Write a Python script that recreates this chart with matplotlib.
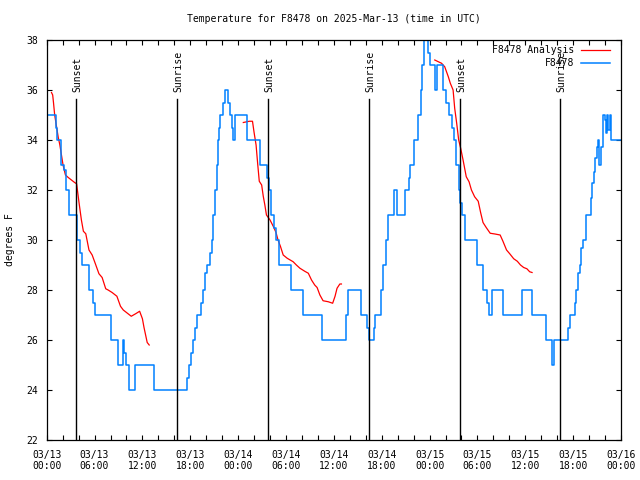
import numpy as np
import matplotlib
matplotlib.use("Agg")
import matplotlib.pyplot as plt
from matplotlib.ticker import MultipleLocator
import matplotlib.transforms as mtransforms

# hours since 2025-03-13 00:00 UTC
obs_hours = [0.0, 1.15, 1.35, 1.75, 2.15, 2.4, 2.8, 3.8, 4.2, 4.45, 5.3, 5.75, 6.0,
             8.1, 9.0, 9.55, 9.7, 9.9, 10.3, 11.1, 13.5, 17.55, 17.6, 17.85, 18.15,
             18.4, 18.65, 18.9, 19.35, 19.6, 19.9, 20.15, 20.45, 20.7, 20.9, 21.1,
             21.3, 21.5, 21.65, 21.75, 22.1, 22.3, 22.7, 23.0, 23.2, 23.4, 23.55,
             25.05, 26.8, 27.65, 27.85, 28.1, 28.55, 28.75, 29.15, 30.6, 32.1, 34.5,
             37.5, 37.8, 39.35, 40.2, 40.45, 41.0, 41.15, 41.95, 42.2, 42.5, 42.85,
             43.55, 43.95, 44.95, 45.4, 45.6, 46.05, 46.6, 46.9, 47.1, 47.35, 47.8,
             48.0, 48.65, 48.95, 49.7, 50.1, 50.4, 50.85, 51.05, 51.35, 51.65,
             51.85, 52.05, 52.4, 53.97, 54.75, 55.2, 55.45, 55.8, 57.25, 59.6, 60.9,
             62.6, 63.35, 63.55, 65.4, 65.6, 66.2, 66.35, 66.6, 66.85, 67.0, 67.25,
             67.55, 68.25, 68.4, 68.6, 68.8, 69.0, 69.1, 69.25, 69.5, 69.75, 69.95,
             70.1, 70.25, 70.4, 70.6, 70.7, 70.8, 72.0]
obs_temp = [35, 34.5, 34, 33, 32.8, 32, 31, 30, 29.5, 29, 28, 27.5, 27,
            26, 25, 26, 25.5, 25, 24, 25, 24, 24, 24.5, 25, 25.5,
            26, 26.5, 27, 27.5, 28, 28.7, 29, 29.5, 30, 31, 32,
            33, 34, 34.5, 35, 35.5, 36, 35.5, 35, 34.5, 34, 35,
            34, 33, 32.5, 32, 31, 30.5, 30, 29, 28, 27, 26,
            27, 28, 27, 26.5, 26, 26.5, 27, 28, 29, 30, 31,
            32, 31, 32, 32.5, 33, 34, 35, 36, 37, 38, 37.5,
            37, 36, 37, 36, 35.5, 35, 34.5, 34, 33, 32,
            31.5, 31, 30, 29, 28, 27.5, 27, 28, 27, 28, 27,
            26, 25, 26, 26.5, 27, 27.5, 28, 28.7, 29, 29.7, 30,
            31, 31.7, 32.3, 32.7, 33.3, 33.7, 34, 33, 33.7, 35, 34.8,
            34.3, 35, 34.4, 35, 34.7, 34, 34]

ana_hours = [0.6, 0.75, 0.85, 1.0, 1.25, 1.45, 1.65, 1.85, 2.05, 2.35, 2.7, 3.1, 3.5,
             3.75, 4.05, 4.35, 4.6, 4.9, 5.3, 5.7, 6.1, 6.55, 6.95, 7.4, 7.7, 8.2,
             8.8, 9.25, 9.6, 10.0, 10.6, 11.15, 11.65, 12.0, 12.2, 12.4, 12.6, 12.85,
             np.nan,
             24.65, 25.4, 25.8, 26.0, 26.25, 26.45, 26.65, 26.95, 27.15, 27.35, 27.55,
             28.0, 28.4, 28.75, 29.0, 29.3, 29.65, 30.15, 30.9, 31.3, 31.75, 32.35,
             32.8, 33.2, 33.6, 33.9, 34.25, 34.65, 35.3, 35.85, 36.15, 36.4, 36.75,
             36.95,
             np.nan,
             48.65, 49.1, 49.5, 49.9, 50.35, 50.6, 50.95, 51.15, 51.4, 51.65, 51.9,
             52.2, 52.6, 52.95, 53.25, 53.65, 54.1, 54.4, 54.7, 55.1, 55.6, 56.2,
             56.85, 57.2, 57.65, 58.05, 58.55, 59.0, 59.4, 59.8, 60.2, 60.55, 60.85]
ana_temp = [35.9, 35.8, 35.5, 35.0, 34.5, 34.1, 33.8, 33.4, 33.0, 32.6, 32.5, 32.4, 32.3,
            32.25, 31.5, 30.8, 30.35, 30.25, 29.6, 29.4, 29.05, 28.65, 28.5, 28.05, 28.0, 27.9,
            27.75, 27.35, 27.2, 27.1, 26.95, 27.05, 27.15, 26.85, 26.5, 26.2, 25.9, 25.8,
            np.nan,
            34.7, 34.75, 34.75, 34.3, 33.8, 33.05, 32.35, 32.2, 31.75, 31.4, 31.0,
            30.8, 30.55, 30.3, 30.0, 29.75, 29.4, 29.27, 29.13, 29.0, 28.87, 28.75,
            28.67, 28.4, 28.2, 28.1, 27.8, 27.57, 27.53, 27.47, 27.75, 28.07, 28.24,
            28.24,
            np.nan,
            37.2, 37.13, 37.07, 36.93, 36.53, 36.27, 36.0, 35.27, 34.67, 34.0, 33.67,
            33.2, 32.53, 32.33, 32.0, 31.73, 31.55, 31.1, 30.7, 30.5, 30.27, 30.24,
            30.2, 29.95, 29.6, 29.45, 29.25, 29.15, 29.0, 28.9, 28.85, 28.73, 28.7]

sunset_hours = [3.67, 27.77, 51.83]
sunrise_hours = [16.33, 40.43, 64.36]

tick_hours = list(range(0, 73, 6))
tick_labels = ["03/13\n00:00", "03/13\n06:00", "03/13\n12:00", "03/13\n18:00",
               "03/14\n00:00", "03/14\n06:00", "03/14\n12:00", "03/14\n18:00",
               "03/15\n00:00", "03/15\n06:00", "03/15\n12:00", "03/15\n18:00",
               "03/16\n00:00"]

plt.rcParams['font.family'] = ['DejaVu Sans Mono']
plt.rcParams['font.size'] = 7

fig = plt.figure(figsize=(6.4, 4.8), dpi=100)
ax = fig.add_axes([46.7 / 640, 40 / 480, 574.3 / 640, 400 / 480])

ax.plot(ana_hours, ana_temp, color='#ff0000', lw=0.9, label='F8478 Analysis')
ax.plot(obs_hours, obs_temp, color='#0080ff', lw=1.1, drawstyle='steps-post', label='F8478')

# sunset / sunrise markers
trans = mtransforms.blended_transform_factory(ax.transData, ax.transAxes)
for name, hrs in (("Sunset", sunset_hours), ("Sunrise", sunrise_hours)):
    for h in hrs:
        ax.plot([h, h], [0, 0.8525], color='black', lw=1.0, transform=trans)
        ax.text(h + 0.2, 0.87, name, rotation=90, ha='center', va='bottom',
                transform=trans, fontsize=7)

ax.set_xlim(0, 72)
ax.set_ylim(22, 38)
ax.set_xticks(tick_hours)
ax.set_xticklabels(tick_labels)
ax.xaxis.set_minor_locator(MultipleLocator(2))
ax.set_yticks(range(22, 39, 2))
ax.tick_params(axis='both', which='both', direction='in', top=True, right=True,
               length=3.5, width=0.8)
ax.tick_params(axis='x', pad=7)
ax.tick_params(axis='y', pad=6)
for s in ax.spines.values():
    s.set_linewidth(0.9)

ax.set_ylabel('degrees F')
ax.yaxis.set_label_coords(-0.055, 0.5)
ax.text(0.5, 1 + 21 / 400, 'Temperature for F8478 on 2025-Mar-13 (time in UTC)',
        transform=ax.transAxes, ha='center', va='center')

ax.legend(loc='upper right', bbox_to_anchor=(0.981, 0.9875), frameon=False,
          markerfirst=False, handlelength=3.0, handletextpad=0.7,
          labelspacing=0.3, borderpad=0, borderaxespad=0)

fig.savefig('out.png', dpi=100)
